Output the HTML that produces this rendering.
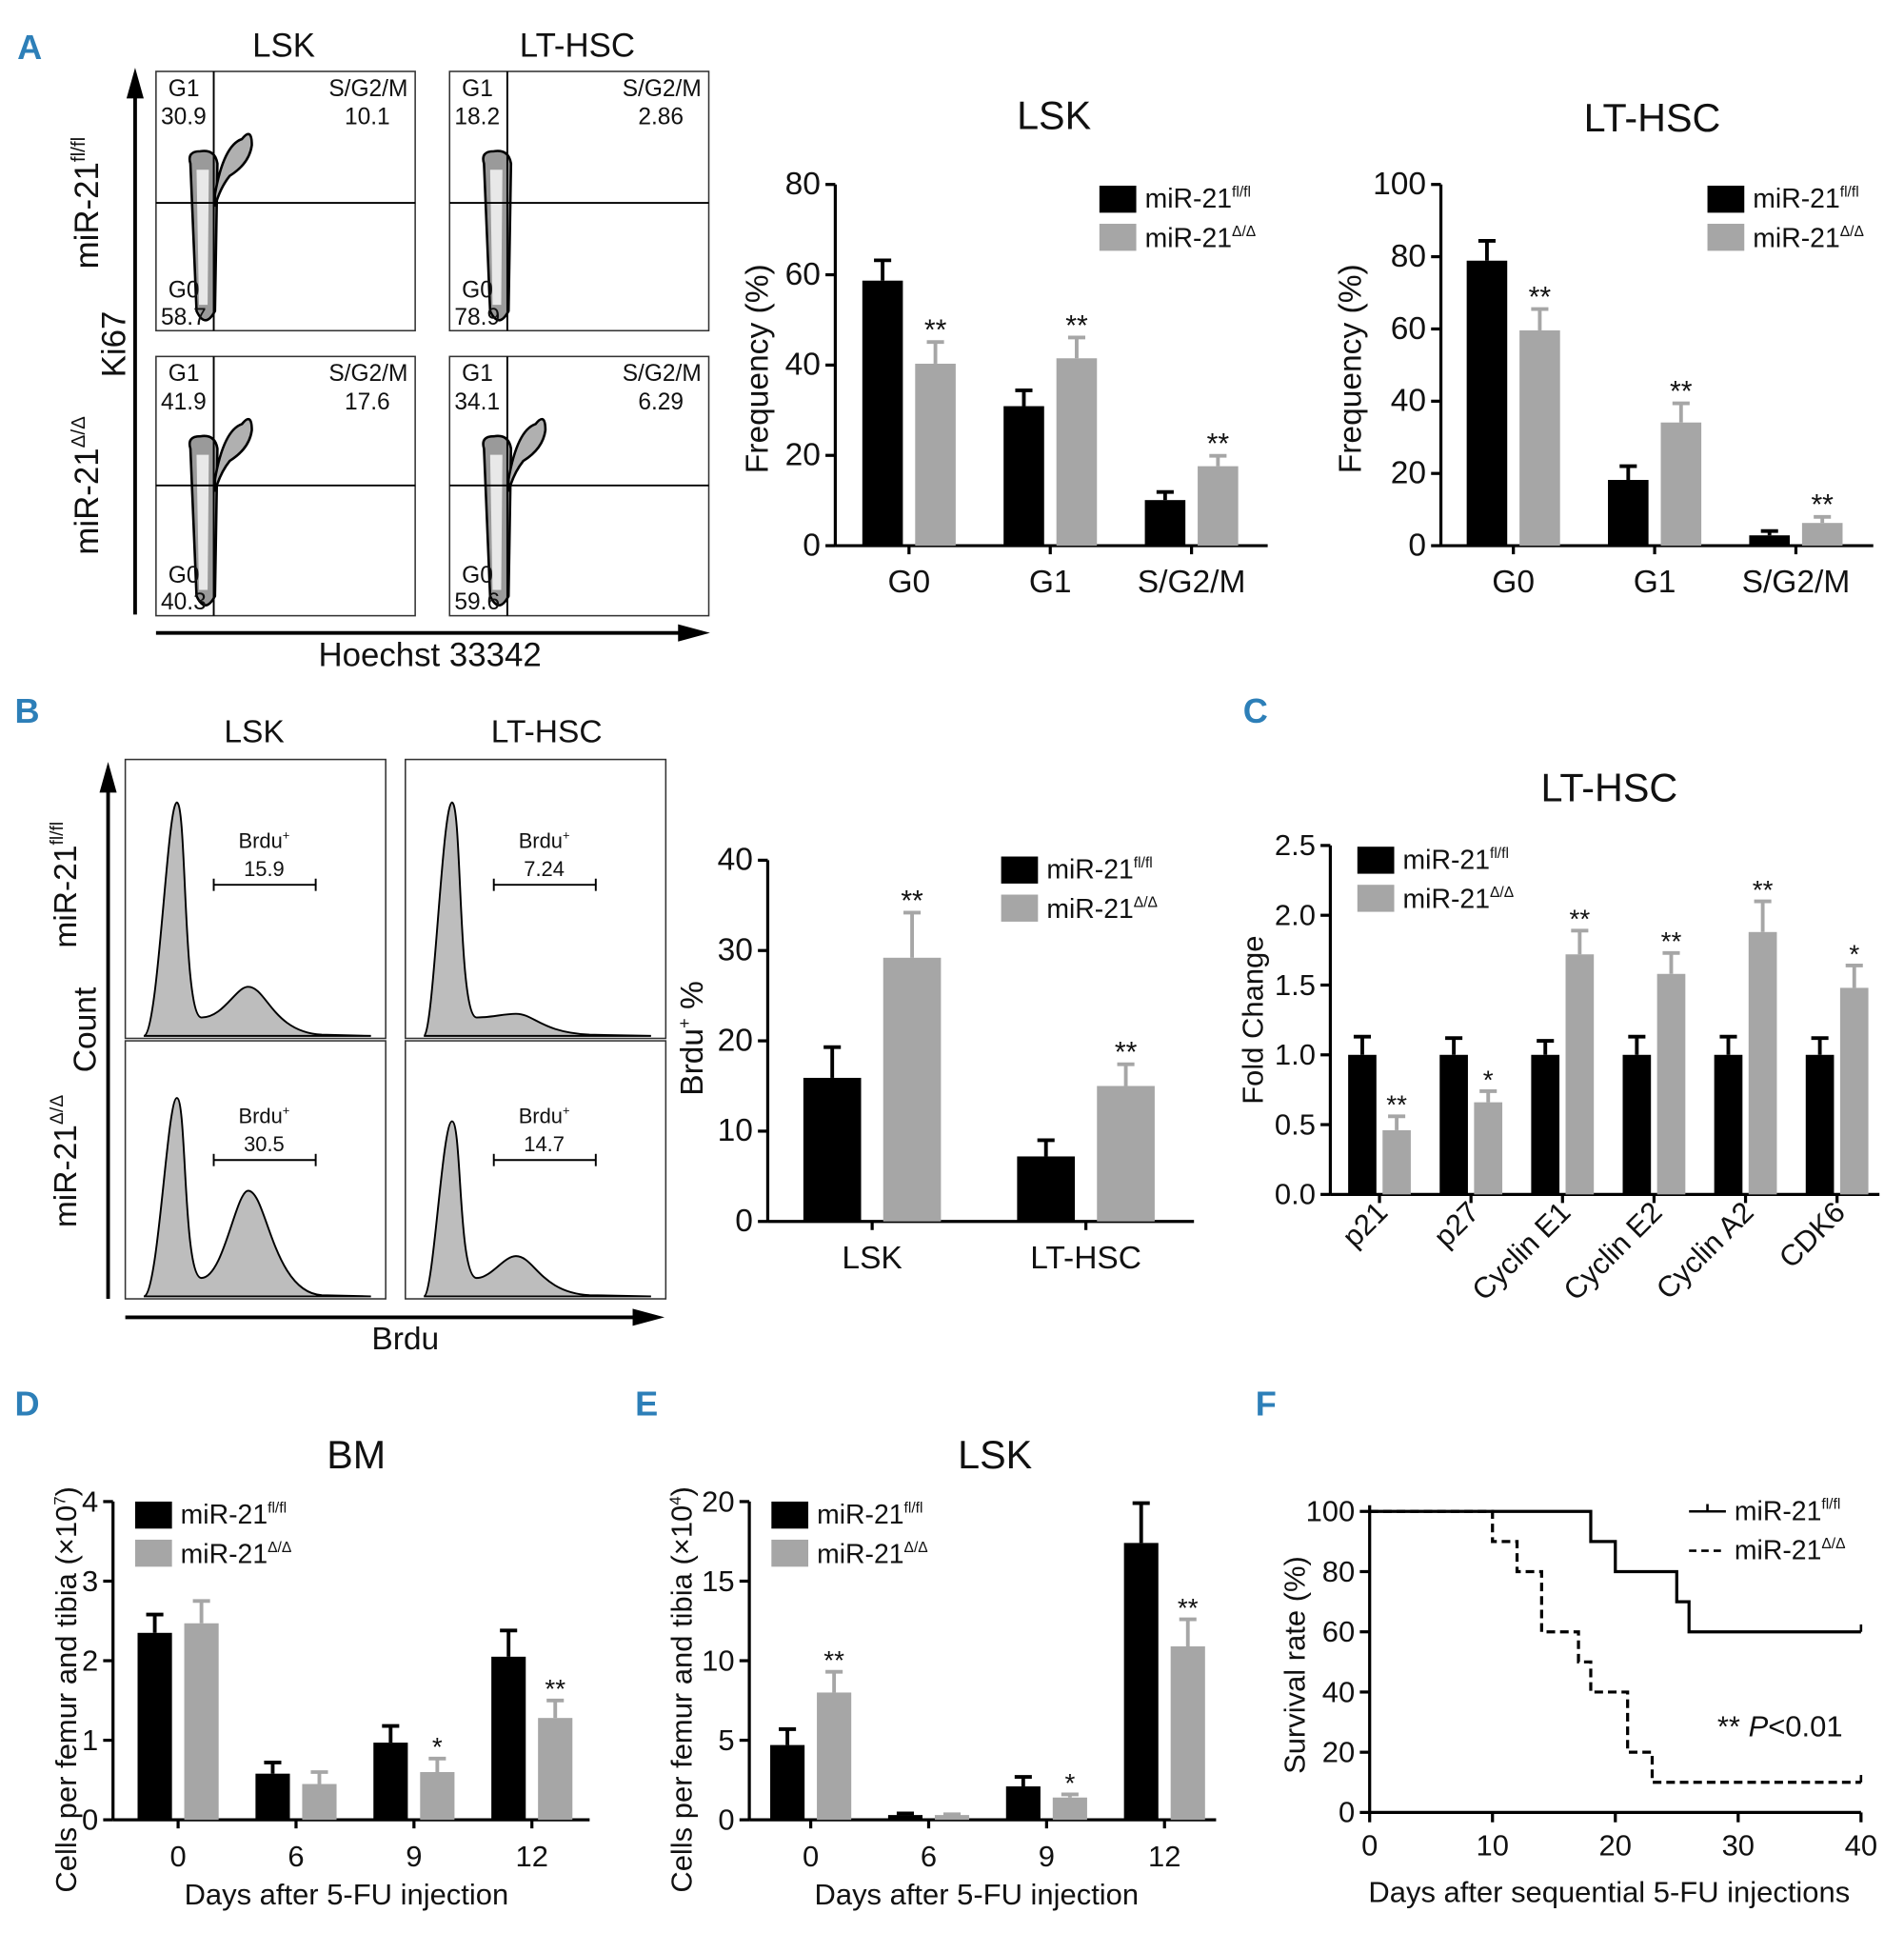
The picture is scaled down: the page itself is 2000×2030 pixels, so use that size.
<!DOCTYPE html>
<html><head><meta charset="utf-8"><style>
html,body{margin:0;padding:0;background:#fff}
svg{display:block}
text{font-family:"Liberation Sans Narrow","Liberation Sans",sans-serif;fill:#111}
.pl{fill:#2d7fb8;font-weight:bold;font-size:28px}
</style></head><body>
<svg id="fig" width="2000" height="2030" viewBox="0 0 1550 1573" xmlns="http://www.w3.org/2000/svg">
<g>
<text class="pl" x="14" y="48">A</text>
<text class="pl" x="12" y="588">B</text>
<text class="pl" x="1012" y="588">C</text>
<text class="pl" x="12" y="1152">D</text>
<text class="pl" x="517" y="1152">E</text>
<text class="pl" x="1022" y="1152">F</text>
</g>
<g id="flowA"></g>
<g id="histB"></g>
<g id="charts"></g>
<g id="surv"></g>
</svg>
<script>
// ---- data ----
const cycleCats = ["G0","G1","S/G2/M"];
const lskFl = [58.7,30.9,10.1];
const lskFlErr = [4.5,3.5,1.8];
const lskKo = [40.3,41.5,17.6];
const lskKoErr = [4.8,4.6,2.3];
const lskStars = ["**","**","**"];
const lthFl = [78.9,18.2,2.86];
const lthFlErr = [5.5,3.8,1.2];
const lthKo = [59.6,34.1,6.29];
const lthKoErr = [5.9,5.3,1.7];
const lthStars = ["**","**","**"];
const brduCats = ["LSK","LT-HSC"];
const brduFl = [15.9,7.2];
const brduFlErr = [3.4,1.8];
const brduKo = [29.2,15.0];
const brduKoErr = [5.0,2.4];
const brduStars = ["**","**"];
const geneCats = ["p21","p27","Cyclin E1","Cyclin E2","Cyclin A2","CDK6"];
const geneFl = [1,1,1,1,1,1];
const geneFlErr = [0.13,0.12,0.1,0.13,0.13,0.12];
const geneKo = [0.46,0.66,1.72,1.58,1.88,1.48];
const geneKoErr = [0.1,0.08,0.17,0.15,0.22,0.16];
const geneStars = ["**","*","**","**","**","*"];
const dayCats = ["0","6","9","12"];
const bmFl = [2.35,0.58,0.97,2.05];
const bmFlErr = [0.23,0.14,0.21,0.33];
const bmKo = [2.47,0.45,0.6,1.28];
const bmKoErr = [0.28,0.15,0.17,0.22];
const bmStars = ["","","*","**"];
const eFl = [4.7,0.3,2.1,17.4];
const eFlErr = [1.0,0.1,0.6,2.5];
const eKo = [8.0,0.3,1.4,10.9];
const eKoErr = [1.3,0.05,0.2,1.7];
const eStars = ["**","","*","**"];
const survDaysFl = [0,18,20,25,26,40];
const survFl = [100,90,80,70,60,60];
const survDaysKo = [0,10,12,14,17,18,21,23,40];
const survKo = [100,90,80,60,50,40,20,10,10];

const NS="http://www.w3.org/2000/svg";
function mk(parent,tag,attrs,txt){const e=document.createElementNS(NS,tag);for(const k in attrs)e.setAttribute(k,attrs[k]);if(txt!==undefined)e.textContent=txt;parent.appendChild(e);return e;}
function legend(g,x,y,sz,line){
  if(line){
    const a=mk(g,"line",{x1:x,y1:y,x2:x+30,y2:y,stroke:"#000","stroke-width":2});
    
    mk(g,"line",{x1:x+15,y1:y-6,x2:x+15,y2:y,stroke:"#000","stroke-width":2});
    const b=mk(g,"line",{x1:x,y1:y+32,x2:x+30,y2:y+32,stroke:"#000","stroke-width":2,"stroke-dasharray":"6,4"});
    
  } else {
    const a=mk(g,"rect",{x:x,y:y-11,width:30,height:22,fill:"#000"});
    
    const b=mk(g,"rect",{x:x,y:y+20,width:30,height:22,fill:"#a6a6a6"});
    
  }
  const t1=mk(g,"text",{x:x+37,y:y+7,"font-size":sz});
  t1.innerHTML='miR-21<tspan font-size="'+(sz*0.55)+'" dy="-9">fl/fl</tspan>';
  
  const t2=mk(g,"text",{x:x+37,y:y+39,"font-size":sz});
  t2.innerHTML='miR-21<tspan font-size="'+(sz*0.55)+'" dy="-9">Δ/Δ</tspan>';
  
}
// generic bar chart
function barChart(o){
  const g=mk(document.getElementById("charts"),"g",{});
  
  const yS=v=>o.y0-(v/o.ymax)*(o.y0-o.y1);
  // axes
  mk(g,"line",{x1:o.x0,y1:o.y1,x2:o.x0,y2:o.y0,stroke:"#000","stroke-width":2.5});
  mk(g,"line",{x1:o.x0,y1:o.y0,x2:o.x2,y2:o.y0,stroke:"#000","stroke-width":2.5});
  o.ticks.forEach(t=>{
    const y=yS(t);
    mk(g,"line",{x1:o.x0-8,y1:y,x2:o.x0,y2:y,stroke:"#000","stroke-width":2.5});
    const tl=mk(g,"text",{x:o.x0-12,y:y+8,"font-size":o.fs,"text-anchor":"end"},o.tickFmt?o.tickFmt(t):t);
    
  });
  o.cats.forEach((c,i)=>{
    const cx=o.cx0+i*o.step;
    mk(g,"line",{x1:cx,y1:o.y0,x2:cx,y2:o.y0+7,stroke:"#000","stroke-width":2.5});
    let lab;
    if(o.rot){lab=mk(g,"text",{x:cx+8,y:o.y0+16,"font-size":o.fs,"text-anchor":"end",transform:`rotate(-45 ${cx+8} ${o.y0+16})`},c);}
    else lab=mk(g,"text",{x:cx,y:o.y0+38,"font-size":o.fs,"text-anchor":"middle"},c);
    
    [[o.a,o.ae,"#000",-1],[o.b,o.be,"#a6a6a6",1]].forEach(([vals,errs,col,s],k)=>{
      const x=s<0?cx-o.gap/2-o.bw:cx+o.gap/2;
      const v=vals[i],ey=yS(v+errs[i]);
      const r=mk(g,"rect",{x:x,y:yS(v),width:o.bw,height:o.y0-yS(v),fill:col});
      
      mk(g,"line",{x1:x+o.bw/2,y1:yS(v),x2:x+o.bw/2,y2:ey,stroke:col,"stroke-width":3});
      mk(g,"line",{x1:x+o.bw/2-7,y1:ey,x2:x+o.bw/2+7,y2:ey,stroke:col,"stroke-width":3});
      if(k&&o.stars[i]){const st=mk(g,"text",{x:x+o.bw/2,y:ey-2,"font-size":o.fs*0.9,"text-anchor":"middle"},o.stars[i]);
        }
    });
  });
  if(o.title){const t=mk(g,"text",{x:o.tx,y:o.ty,"font-size":32,"text-anchor":"middle"},o.title);}
  const yl=mk(g,"text",{x:o.ylx,y:o.yly,"font-size":o.fs,"text-anchor":"middle",transform:`rotate(-90 ${o.ylx} ${o.yly})`});
  yl.innerHTML=o.ylab;
  if(o.xlab){const xl=mk(g,"text",{x:o.xlx,y:o.xly,"font-size":o.fs,"text-anchor":"middle"},o.xlab);}
  legend(g,o.lx,o.ly,22);
}
barChart({name:"lsk-cell-cycle-chart",x0:680,x2:1032,y0:444,y1:150,ymax:80,ticks:[0,20,40,60,80],cats:cycleCats,cx0:740,step:115,bw:33,gap:10,a:lskFl,ae:lskFlErr,b:lskKo,be:lskKoErr,stars:lskStars,fs:26,title:"LSK",tx:858,ty:105,ylab:"Frequency (%)",ylx:625,yly:300,lx:895,ly:162});
barChart({name:"lthsc-cell-cycle-chart",x0:1173,x2:1525,y0:444,y1:150,ymax:100,ticks:[0,20,40,60,80,100],cats:cycleCats,cx0:1232,step:115,bw:33,gap:10,a:lthFl,ae:lthFlErr,b:lthKo,be:lthKoErr,stars:lthStars,fs:26,title:"LT-HSC",tx:1345,ty:107,ylab:"Frequency (%)",ylx:1108,yly:300,lx:1390,ly:162});
barChart({name:"brdu-percent-chart",x0:625,x2:972,y0:994,y1:700,ymax:40,ticks:[0,10,20,30,40],cats:brduCats,cx0:710,step:174,bw:47,gap:18,a:brduFl,ae:brduFlErr,b:brduKo,be:brduKoErr,stars:brduStars,fs:26,ylab:'Brdu<tspan font-size="14" dy="-10">+</tspan><tspan dy="10"> %</tspan>',ylx:572,yly:845,lx:815,ly:708});
barChart({name:"fold-change-chart",x0:1083,x2:1530,y0:972,y1:688,ymax:2.5,ticks:[0,0.5,1,1.5,2,2.5],tickFmt:t=>t.toFixed(1),cats:geneCats,cx0:1123,step:74.5,bw:23,gap:5,a:geneFl,ae:geneFlErr,b:geneKo,be:geneKoErr,stars:geneStars,fs:24,rot:true,title:"LT-HSC",tx:1310,ty:652,ylab:"Fold Change",ylx:1028,yly:830,lx:1105,ly:700});
barChart({name:"bm-cellularity-chart",x0:92,x2:480,y0:1481,y1:1222,ymax:4,ticks:[0,1,2,3,4],cats:dayCats,cx0:145,step:96,bw:28,gap:10,a:bmFl,ae:bmFlErr,b:bmKo,be:bmKoErr,stars:bmStars,fs:24,title:"BM",tx:290,ty:1195,ylab:'Cells per femur and tibia (×10<tspan font-size="13" dy="-9">7</tspan><tspan dy="9">)</tspan>',ylx:62,yly:1375,xlab:"Days after 5-FU injection",xlx:282,xly:1550,lx:110,ly:1233});
barChart({name:"lsk-number-chart",x0:610,x2:990,y0:1481,y1:1222,ymax:20,ticks:[0,5,10,15,20],cats:dayCats,cx0:660,step:96,bw:28,gap:10,a:eFl,ae:eFlErr,b:eKo,be:eKoErr,stars:eStars,fs:24,title:"LSK",tx:810,ty:1195,ylab:'Cells per femur and tibia (×10<tspan font-size="13" dy="-9">4</tspan><tspan dy="9">)</tspan>',ylx:563,yly:1375,xlab:"Days after 5-FU injection",xlx:795,xly:1550,lx:628,ly:1233});

// survival
(function(){
  const g=document.getElementById("surv");
  const x0=1115,x1=1515,y0=1475,y1=1230;
  const xS=d=>x0+d/40*(x1-x0), yS=v=>y0-v/100*(y0-y1);
  mk(g,"line",{x1:x0,y1:y1-5,x2:x0,y2:y0,stroke:"#000","stroke-width":2.5});
  mk(g,"line",{x1:x0,y1:y0,x2:x1,y2:y0,stroke:"#000","stroke-width":2.5});
  [0,20,40,60,80,100].forEach(t=>{mk(g,"line",{x1:x0-8,y1:yS(t),x2:x0,y2:yS(t),stroke:"#000","stroke-width":2.5});
    const l=mk(g,"text",{x:x0-12,y:yS(t)+8,"font-size":24,"text-anchor":"end"},t);});
  [0,10,20,30,40].forEach(t=>{mk(g,"line",{x1:xS(t),y1:y0,x2:xS(t),y2:y0+8,stroke:"#000","stroke-width":2.5});
    const l=mk(g,"text",{x:xS(t),y:y0+35,"font-size":24,"text-anchor":"middle"},t);});
  function step(ds,vs,dash,name){let d=`M${xS(ds[0])},${yS(vs[0])}`;
    for(let i=1;i<ds.length;i++){d+=` H${xS(ds[i])} V${yS(vs[i])}`;}
    const p=mk(g,"path",{d:d,fill:"none",stroke:"#000","stroke-width":2.5,"stroke-dasharray":dash});
    
    mk(g,"line",{x1:xS(40),y1:yS(vs[vs.length-1])-6,x2:xS(40),y2:yS(vs[vs.length-1]),stroke:"#000","stroke-width":2});}
  step(survDaysFl,survFl,"none","survival-curve-flfl");
  step(survDaysKo,survKo,"7,4","survival-curve-ko");
  const yl=mk(g,"text",{x:1062,y:1355,"font-size":24,"text-anchor":"middle",transform:"rotate(-90 1062 1355)"},"Survival rate (%)");
  const xl=mk(g,"text",{x:1310,y:1548,"font-size":24,"text-anchor":"middle"},"Days after sequential 5-FU injections");
  const pv=mk(g,"text",{x:1398,y:1413,"font-size":24});pv.innerHTML='** <tspan font-style="italic">P</tspan>&lt;0.01';
  legend(g,1375,1230,22,true);
})();

// flow plots A
(function(){
  const g=document.getElementById("flowA");
  const boxes=[[127,58,174,165,"30.9","10.1","58.7",0],[366,58,413,165,"18.2","2.86","78.9",1],[127,290,174,395,"41.9","17.6","40.3",0],[366,290,413,395,"34.1","6.29","59.6",1]];
  boxes.forEach(([x,y,vx,hy,g1,s,g0,k],i)=>{
    const b=mk(g,"rect",{x:x,y:y,width:211,height:211,fill:"none",stroke:"#333","stroke-width":1.2});
    
    mk(g,"path",{d:`M${x+28},${y+75} Q${x+25},${y+65} ${x+36},${y+65} Q${x+48},${y+63} ${x+50},${y+75} L${x+48},${y+195} Q${x+40},${y+210} ${x+33},${y+195} Z`,fill:"#9a9a9a",stroke:"#000","stroke-width":2});
    mk(g,"path",{d:`M${x+33},${y+80} L${x+43},${y+80} L${x+42},${y+190} L${x+35},${y+190} Z`,fill:"#e8e8e8"});
    if(!k||i==3){mk(g,"path",{d:`M${x+48},${y+100} Q${x+55},${y+60} ${x+70},${y+55} Q${x+78},${y+45} ${x+78},${y+60} Q${x+76},${y+75} ${x+60},${y+85} Q${x+52},${y+95} ${x+48},${y+110} Z`,fill:"#b0b0b0",stroke:"#000","stroke-width":2});}
    mk(g,"line",{x1:vx,y1:y,x2:vx,y2:y+211,stroke:"#000","stroke-width":1.5});
    mk(g,"line",{x1:x,y1:hy,x2:x+211,y2:hy,stroke:"#000","stroke-width":1.5});
    [["G1",x+10,y+20],[g1,x+4,y+43],["G0",x+10,y+184],[g0,x+4,y+206]].forEach(([t,tx,ty])=>{const e=mk(g,"text",{x:tx,y:ty,"font-size":19},t);});
    const e1=mk(g,"text",{x:x+205,y:y+20,"font-size":19,"text-anchor":"end"},"S/G2/M");
    const e2=mk(g,"text",{x:x+172,y:y+43,"font-size":19,"text-anchor":"middle"},s);
  });
  mk(g,"line",{x1:110,y1:500,x2:110,y2:75,stroke:"#000","stroke-width":3});
  mk(g,"path",{d:"M103,80 L110,55 L117,80 Z",fill:"#000"});
  mk(g,"line",{x1:127,y1:515,x2:555,y2:515,stroke:"#000","stroke-width":3});
  mk(g,"path",{d:"M552,508 L578,515 L552,522 Z",fill:"#000"});
  [["LSK",231,46],["LT-HSC",470,46],["Hoechst 33342",350,542]].forEach(([t,x,y])=>{const e=mk(g,"text",{x:x,y:y,"font-size":27,"text-anchor":"middle"},t);});
  const ki=mk(g,"text",{x:102,y:280,"font-size":27,"text-anchor":"middle",transform:"rotate(-90 102 280)"},"Ki67");
  [["fl/fl",80,165],["Δ/Δ",80,395]].forEach(([s,x,y])=>{const e=mk(g,"text",{x:x,y:y,"font-size":27,"text-anchor":"middle",transform:`rotate(-90 ${x} ${y})`});e.innerHTML='miR-21<tspan font-size="16" dy="-11">'+s+'</tspan>';});
})();

// histograms B
(function(){
  const g=document.getElementById("histB");
  const boxes=[[102,618,0.95,0.15,"15.9"],[330,618,0.95,0.04,"7.24"],[102,847,0.85,0.4,"30.5"],[330,847,0.75,0.12,"14.7"]];
  boxes.forEach(([x,y,h1,h2,val],i)=>{
    const b=mk(g,"rect",{x:x,y:y,width:212,height:i<2?227:210,fill:"none",stroke:"#333","stroke-width":1.2});
    
    const base=y+(i<2?225:208), H=(i<2?200:190);
    const px=x+(i%2?38:42);
    const bx=x+(i%2?90:100);
    const d=`M${x+15},${base} C${px-15},${base} ${px-8},${base-H*h1} ${px},${base-H*h1} C${px+8},${base-H*h1} ${px+5},${base-15} ${px+20},${base-15} C${bx-20},${base-15} ${bx-10},${base-H*h2-10} ${bx},${base-H*h2-10} C${bx+15},${base-H*h2-10} ${bx+20},${base-3} ${bx+60},${base-1} L${x+200},${base} Z`;
    const p=mk(g,"path",{d:d,fill:"#bdbdbd",stroke:"#000","stroke-width":1.5});
    
    const gy=y+(i<2?102:97);
    mk(g,"line",{x1:x+72,y1:gy,x2:x+155,y2:gy,stroke:"#000","stroke-width":1.5});
    mk(g,"line",{x1:x+72,y1:gy-5,x2:x+72,y2:gy+5,stroke:"#000","stroke-width":1.5});
    mk(g,"line",{x1:x+155,y1:gy-5,x2:x+155,y2:gy+5,stroke:"#000","stroke-width":1.5});
    const t=mk(g,"text",{x:x+113,y:gy-30,"font-size":17,"text-anchor":"middle"});t.innerHTML='Brdu<tspan font-size="10" dy="-7">+</tspan>';
    const v=mk(g,"text",{x:x+113,y:gy-7,"font-size":17,"text-anchor":"middle"},val);
  });
  mk(g,"line",{x1:88,y1:1057,x2:88,y2:640,stroke:"#000","stroke-width":3});
  mk(g,"path",{d:"M81,645 L88,620 L95,645 Z",fill:"#000"});
  mk(g,"line",{x1:102,y1:1072,x2:518,y2:1072,stroke:"#000","stroke-width":3});
  mk(g,"path",{d:"M515,1065 L541,1072 L515,1079 Z",fill:"#000"});
  [["LSK",207,604],["LT-HSC",445,604],["Brdu",330,1098]].forEach(([t,x,y])=>{const e=mk(g,"text",{x:x,y:y,"font-size":26,"text-anchor":"middle"},t);});
  const c=mk(g,"text",{x:78,y:838,"font-size":26,"text-anchor":"middle",transform:"rotate(-90 78 838)"},"Count");
  [["fl/fl",62,720],["Δ/Δ",62,945]].forEach(([s,x,y])=>{const e=mk(g,"text",{x:x,y:y,"font-size":26,"text-anchor":"middle",transform:`rotate(-90 ${x} ${y})`});e.innerHTML='miR-21<tspan font-size="15" dy="-11">'+s+'</tspan>';});
})();
</script>
</body></html>
